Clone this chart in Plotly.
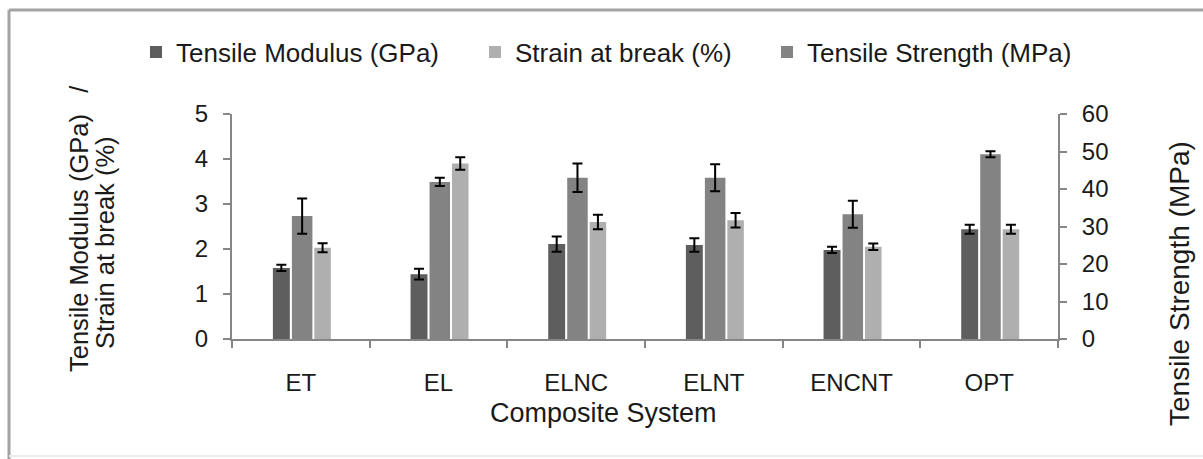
import plotly.graph_objects as go

categories = ["ET", "EL", "ELNC", "ELNT", "ENCNT", "OPT"]
modulus = [1.58, 1.44, 2.11, 2.09, 1.98, 2.44]
modulus_err = [0.07, 0.12, 0.17, 0.15, 0.07, 0.10]
strain = [2.03, 3.90, 2.60, 2.64, 2.05, 2.44]
strain_err = [0.10, 0.14, 0.16, 0.16, 0.07, 0.10]
strength = [32.8, 41.9, 43.0, 43.0, 33.3, 49.3]
strength_err = [4.7, 1.1, 3.8, 3.6, 3.6, 0.8]

left_ticks = [0, 1, 2, 3, 4, 5]
right_ticks = [0, 10, 20, 30, 40, 50, 60]

FONT = "Liberation Sans, Arial, sans-serif"
TXT = "#1a1a1a"
C_DARK = "#5e5e5e"
C_MED = "#838383"
C_LIGHT = "#afafaf"
AXC = "#868686"

err_style = dict(type="data", visible=True, color="black", thickness=2, width=5)

fig = go.Figure()
fig.add_trace(go.Bar(
    x=categories, y=modulus, name="Tensile Modulus (GPa)",
    marker=dict(color=C_DARK, line=dict(width=0)),
    error_y=dict(array=modulus_err, **err_style),
    offset=-0.203, width=0.123, yaxis="y", legend="legend", showlegend=True,
))
fig.add_trace(go.Bar(
    x=categories, y=strength, name="Tensile Strength (MPa)",
    marker=dict(color=C_MED, line=dict(width=0)),
    error_y=dict(array=strength_err, **err_style),
    offset=-0.065, width=0.149, yaxis="y2", legend="legend3", showlegend=True,
))
fig.add_trace(go.Bar(
    x=categories, y=strain, name="Strain at break (%)",
    marker=dict(color=C_LIGHT, line=dict(width=0)),
    error_y=dict(array=strain_err, **err_style),
    offset=0.098, width=0.12, yaxis="y", legend="legend2", showlegend=True,
))

W, H = 1203, 459
L, R, T, B = 232, 145, 114, 120
pw = W - L - R
ph = H - T - B

def px_x(p):
    return (p - L) / pw

def px_y(p):
    return (H - B - p) / ph

leg_common = dict(orientation="h", yanchor="middle", xanchor="left",
                  font=dict(family=FONT, size=26, color=TXT),
                  bgcolor="rgba(0,0,0,0)", borderwidth=0, visible=True)

fig.update_layout(
    width=W, height=H,
    margin=dict(l=L, r=R, t=T, b=B, autoexpand=False),
    paper_bgcolor="white", plot_bgcolor="white",
    barmode="overlay", showlegend=True,
    font=dict(family=FONT, color=TXT),
    legend=dict(x=px_x(136), y=px_y(52), **leg_common),
    legend2=dict(x=px_x(475), y=px_y(52), **leg_common),
    legend3=dict(x=px_x(767), y=px_y(52), **leg_common),
    xaxis=dict(
        type="category", categoryorder="array", categoryarray=categories,
        showline=True, linecolor=AXC, linewidth=2,
        ticks="outside", tickson="boundaries", ticklen=7, tickcolor=AXC, tickwidth=2,
        tickfont=dict(family=FONT, size=24, color=TXT),
        ticklabelstandoff=21, showgrid=False, zeroline=False,
    ),
    yaxis=dict(
        range=[0, 5], tickvals=left_ticks,
        showline=True, linecolor=AXC, linewidth=2,
        ticks="outside", ticklen=7, tickcolor=AXC, tickwidth=2,
        tickfont=dict(family=FONT, size=24, color=TXT),
        ticklabelstandoff=10, showgrid=False, zeroline=False,
    ),
    yaxis2=dict(
        range=[0, 60], tickvals=right_ticks, overlaying="y", side="right",
        showline=True, linecolor=AXC, linewidth=2,
        ticks="outside", ticklen=7, tickcolor=AXC, tickwidth=2,
        tickfont=dict(family=FONT, size=24, color=TXT),
        ticklabelstandoff=10, showgrid=False, zeroline=False,
    ),
    annotations=[
        dict(text="Tensile Modulus (GPa)&nbsp;&nbsp; /", textangle=-90,
             x=px_x(79), y=px_y(229), xref="paper", yref="paper",
             xanchor="center", yanchor="middle", showarrow=False,
             font=dict(family=FONT, size=25.5, color=TXT)),
        dict(text="Strain at break (%)", textangle=-90,
             x=px_x(105), y=px_y(243), xref="paper", yref="paper",
             xanchor="center", yanchor="middle", showarrow=False,
             font=dict(family=FONT, size=25.5, color=TXT)),
        dict(text="Tensile Strength (MPa)", textangle=-90,
             x=px_x(1179), y=px_y(284), xref="paper", yref="paper",
             xanchor="center", yanchor="middle", showarrow=False,
             font=dict(family=FONT, size=28, color=TXT)),
        dict(text="Composite System",
             x=px_x(603.5), y=px_y(413), xref="paper", yref="paper",
             xanchor="center", yanchor="middle", showarrow=False,
             font=dict(family=FONT, size=27, color=TXT)),
    ],
    shapes=[
        dict(type="line", xref="paper", yref="paper",
             x0=px_x(9), x1=px_x(9), y0=px_y(470), y1=px_y(10),
             line=dict(color="#a3a3a3", width=3)),
        dict(type="line", xref="paper", yref="paper",
             x0=px_x(9), x1=px_x(1210), y0=px_y(10), y1=px_y(10),
             line=dict(color="#a3a3a3", width=3)),
        dict(type="line", xref="paper", yref="paper",
             x0=px_x(9), x1=px_x(1210), y0=px_y(456), y1=px_y(456),
             line=dict(color="#ececec", width=2)),
    ],
)

fig.write_html("out.html")
